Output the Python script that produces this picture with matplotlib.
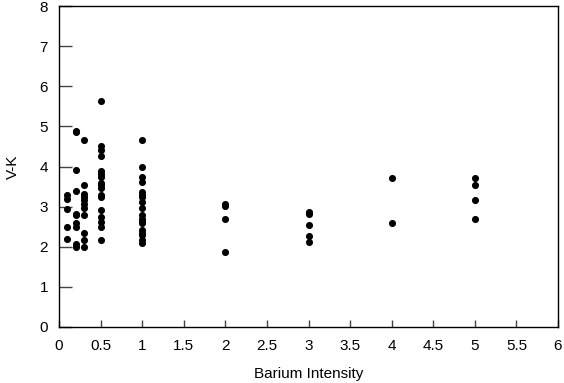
import matplotlib
matplotlib.use('Agg')
from matplotlib import pyplot as plt

plt.rcParams['font.family'] = ['Liberation Sans', 'DejaVu Sans']

# Barium intensity groups and V-K colours
x01 = [3.30, 3.20, 2.93, 2.50, 2.20]
x02 = [4.89, 4.85, 3.92, 3.40, 2.82, 2.78, 2.58, 2.49, 2.08, 2.00]
x03 = [4.66, 3.53, 3.32, 3.24, 3.16, 3.07, 2.97, 2.78, 2.34, 2.18, 2.00]
x05 = [5.62, 4.50, 4.40, 4.25, 3.90, 3.82, 3.73, 3.59, 3.53, 3.47, 3.28, 3.24,
       2.91, 2.74, 2.62, 2.49, 2.18]
x1 = [4.66, 4.00, 3.75, 3.61, 3.36, 3.30, 3.24, 3.11, 2.97, 2.80, 2.70, 2.64,
      2.58, 2.41, 2.34, 2.29, 2.16, 2.10]
x2 = [3.06, 3.01, 2.70, 1.87]
x3 = [2.87, 2.82, 2.55, 2.27, 2.13]
x4 = [3.72, 2.60]
x5 = [3.72, 3.53, 3.17, 2.68]

groups = {0.1: x01, 0.2: x02, 0.3: x03, 0.5: x05, 1: x1, 2: x2, 3: x3, 4: x4, 5: x5}
xs, ys = [], []
for k, vals in groups.items():
    xs += [k] * len(vals)
    ys += vals

fig = plt.figure(figsize=(5.64, 3.83), dpi=100)
ax = fig.add_axes([59 / 564, 56 / 383, 499 / 564, 321 / 383])
ax.scatter(xs, ys, s=26, color='black', linewidths=0, zorder=3)

ax.set_xlim(0, 6)
ax.set_ylim(0, 8)
ax.set_xticks([i * 0.5 for i in range(13)])
ax.set_xticklabels(['0', '0.5', '1', '1.5', '2', '2.5', '3', '3.5', '4', '4.5', '5', '5.5', '6'])
ax.set_yticks(range(9))
ax.tick_params(direction='in', width=1, color='#444444', labelsize=11)
ax.tick_params(axis='x', length=5, pad=9)
ax.tick_params(axis='y', length=9, pad=8)
for s in ax.spines.values():
    s.set_linewidth(1)
ax.set_xlabel('Barium Intensity', fontsize=11, labelpad=10)
ax.set_ylabel('V-K', fontsize=11, labelpad=14)

fig.savefig('out.png', dpi=100)
